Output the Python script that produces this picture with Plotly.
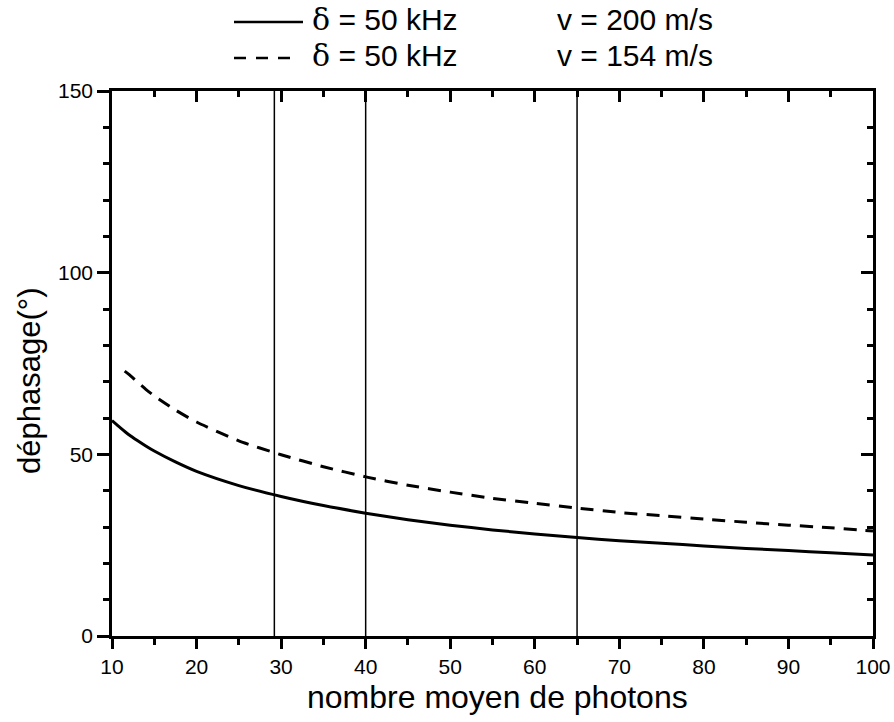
import plotly.graph_objects as go

# solid curve: v = 200 m/s
n_solid = [10, 11, 12, 13, 14, 15, 17.5, 20, 25, 30, 35, 40, 45, 50, 55, 60, 65, 70, 75, 80, 85, 90, 95, 100]
phase_solid = [59.3, 57.3, 55.4, 53.8, 52.3, 50.9, 47.9, 45.3, 41.4, 38.4, 35.9, 33.8, 32.0, 30.5,
               29.2, 28.1, 27.1, 26.2, 25.5, 24.8, 24.1, 23.5, 22.9, 22.3]

# dashed curve: v = 154 m/s
n_dash = [11.5, 12, 13, 14, 15, 17.5, 20, 25, 30, 35, 40, 45, 50, 55, 60, 65, 70, 75, 80, 85, 90, 95, 100]
phase_dash = [72.9, 72.0, 69.9, 67.9, 66.1, 62.2, 58.9, 53.7, 49.9, 46.6, 43.8, 41.5, 39.6,
              37.9, 36.5, 35.2, 34.0, 33.1, 32.2, 31.3, 30.5, 29.8, 28.9]

# vertical markers
vlines = [29.2, 40, 65]

legend_delta = ["δ = 50 kHz", "δ = 50 kHz"]
legend_v = ["v = 200 m/s", "v = 154 m/s"]

W, H = 894, 722
L, R, T, B = 112, 21, 91, 86
FONT = "Liberation Sans, Arial, sans-serif"


def px(x):
    # screen pixel -> paper x
    return (x - L) / (W - L - R)


def py(y):
    # screen pixel -> paper y
    return (H - B - y) / (H - T - B)


fig = go.Figure()
fig.add_trace(go.Scatter(x=n_solid, y=phase_solid, mode="lines",
                         line=dict(color="black", width=3, shape="spline", smoothing=0.6),
                         showlegend=False))
fig.add_trace(go.Scatter(x=n_dash, y=phase_dash, mode="lines", xaxis="x2", yaxis="y2",
                         line=dict(color="black", width=3, dash="13px,9px",
                                   shape="spline", smoothing=0.6),
                         showlegend=False))

for xv in vlines:
    fig.add_vline(x=xv, line=dict(color="black", width=1.5))

# hand-made legend at the top
for i, (d, v) in enumerate(zip(legend_delta, legend_v)):
    yline = [22, 58][i]
    ytext = [19, 55][i]
    fig.add_shape(type="line", xref="paper", yref="paper",
                  x0=px(234), x1=px(303) if i == 0 else px(292), y0=py(yline), y1=py(yline),
                  line=dict(color="black", width=2.5, dash="solid" if i == 0 else "12px,10px"))
    fig.add_annotation(text=d.replace("δ", "<span style='font-family:DejaVu Serif'>δ</span>"),
                       xref="paper", yref="paper", x=px(310), y=py(ytext),
                       xanchor="left", yanchor="middle", showarrow=False,
                       font=dict(size=30, color="black", family=FONT))
    fig.add_annotation(text=v, xref="paper", yref="paper", x=px(555), y=py(ytext),
                       xanchor="left", yanchor="middle", showarrow=False,
                       font=dict(size=30, color="black", family=FONT))

# axis titles
fig.add_annotation(text="nombre moyen de photons", xref="paper", yref="paper",
                   x=px(497), y=py(697), xanchor="center", yanchor="middle",
                   showarrow=False, font=dict(size=32, color="black", family=FONT))
fig.add_annotation(text="déphasage(°)", xref="paper", yref="paper",
                   x=px(30), y=py(381), xanchor="center", yanchor="middle", textangle=-90,
                   showarrow=False, font=dict(size=31, color="black", family=FONT))

axis_common = dict(showgrid=False, zeroline=False, showline=True, linecolor="black",
                   linewidth=2.5, tickcolor="black", tickwidth=2.5, automargin=False)

fig.update_layout(
    template="none",
    width=W, height=H,
    margin=dict(l=L, r=R, t=T, b=B, autoexpand=False),
    paper_bgcolor="white", plot_bgcolor="white",
    font=dict(family=FONT, size=21, color="black"),
    showlegend=False,
    xaxis=dict(range=[10, 100], tick0=10, dtick=10, ticks="outside", ticklen=10,
               minor=dict(dtick=5, tick0=10, ticks="outside", ticklen=6,
                          tickwidth=2.5, tickcolor="black"),
               tickfont=dict(size=21), **axis_common),
    xaxis2=dict(range=[10, 100], overlaying="x", side="top", tick0=10, dtick=10,
                ticks="inside", ticklen=11, showticklabels=False,
                minor=dict(dtick=5, tick0=10, ticks="inside", ticklen=6,
                           tickwidth=2.5, tickcolor="black"),
                **axis_common),
    yaxis=dict(range=[0, 150], tick0=0, dtick=50, ticks="outside", ticklen=12,
               minor=dict(dtick=10, tick0=0, ticks="outside", ticklen=6,
                          tickwidth=2.5, tickcolor="black"),
               tickfont=dict(size=21), **axis_common),
    yaxis2=dict(range=[0, 150], overlaying="y", side="right", tick0=0, dtick=50,
                ticks="inside", ticklen=12, showticklabels=False,
                minor=dict(dtick=10, tick0=0, ticks="inside", ticklen=6,
                           tickwidth=2.5, tickcolor="black"),
                **axis_common),
)

# drop the default page margin so the figure sits at the window's corner
fig.write_html("out.html", config={"displayModeBar": False},
               post_script="document.body.style.margin='0px';")
